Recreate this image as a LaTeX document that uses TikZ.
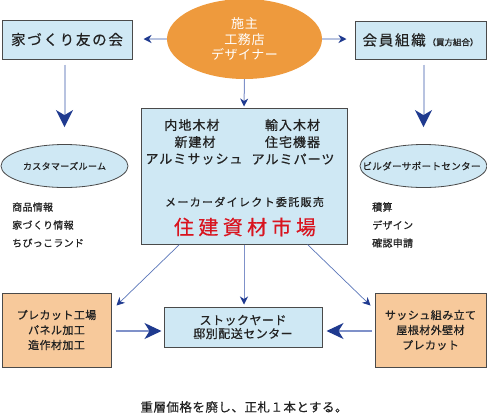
\documentclass[tikz,border=0pt]{standalone}
\usepackage{fontspec}
\setmainfont{Noto Sans CJK JP}
\usetikzlibrary{arrows.meta,shapes.geometric}
\definecolor{lblue}{HTML}{CFE8F4}
\definecolor{orangeE}{HTML}{EE9A3D}
\definecolor{peach}{HTML}{F7C99B}
\definecolor{navy}{HTML}{1F3A8F}
\definecolor{lline}{HTML}{B8C3E0}
\definecolor{mline}{HTML}{7F91C9}
\definecolor{dline}{HTML}{5A75B8}
\definecolor{redt}{HTML}{D9141F}
\definecolor{border}{HTML}{4A4A4A}
\definecolor{ink}{HTML}{222222}
\newcommand{\fs}[3]{\fontsize{#1}{#2}\selectfont\addfontfeature{LetterSpace=#3}}
\newcommand{\fsb}[3]{\fontsize{#1}{#2}\selectfont\addfontfeature{LetterSpace=#3,FakeBold=0.7}}
\newcommand{\fsm}[3]{\fontsize{#1}{#2}\selectfont\addfontfeature{LetterSpace=#3,FakeBold=0.3}}
\begin{document}
\begin{tikzpicture}[x=1pt,y=-1pt,
  bluebox/.style={draw=border, line width=1pt, fill=lblue, inner sep=0pt},
  peachbox/.style={draw=border, line width=1pt, fill=peach, inner sep=0pt, align=center, text=ink},
  bluell/.style={ellipse, draw=border, line width=0.8pt, fill=lblue, inner sep=0pt, minimum width=127pt, minimum height=43pt},
  txt/.style={inner sep=0pt, align=center, text=ink},
  lighta/.style={draw=lline, line width=2pt, -{Stealth[length=8pt,width=8pt,inset=2.5pt,color=navy]}},
  lightbig/.style={draw=lline, line width=2pt, -{Stealth[length=17pt,width=17pt,inset=5pt,color=navy]}},
  mida/.style={draw=mline, line width=1pt, -{Stealth[length=8pt,width=8pt,inset=2.5pt,color=navy]}},
  midbig/.style={draw=mline, line width=1.2pt, -{Stealth[length=17pt,width=16pt,inset=5pt,color=navy]}},
  diaga/.style={draw=dline, line width=0.7pt, -{Stealth[length=8pt,width=8pt,inset=2.5pt,color=navy]}},
  tipa/.style={draw=none, -{Stealth[length=7pt,width=8pt,inset=2pt,color=navy]}},
]
\useasboundingbox (0,0) rectangle (487,416);

% top ellipse
\node[ellipse, fill=orangeE, minimum width=155pt, minimum height=80pt, inner sep=0pt] (own) at (244.5,39) {};
\node[txt, text=white, font=\fs{13}{15.5}{4}] (ownt) at (own) {施主\\工務店\\デザイナー};

% top boxes
\node[bluebox, minimum width=130pt, minimum height=39pt] (b1) at (67,39.5) {};
\node[txt, font=\fsm{14.5}{17}{12}] (b1t) at (b1) {家づくり友の会};
\node[bluebox, minimum width=131pt, minimum height=38pt] (b2) at (420.5,40) {};
\node[txt] (b2t) at (b2) {{\fsm{14.5}{17}{12}会員組織}\,{\fsb{8.5}{11}{0}（買方組合）}};

% central box
\node[bluebox, minimum width=206pt, minimum height=136pt] (c) at (244,176) {};
\node[txt, font=\fsb{13}{15}{8}] (t1) at (192,125) {内地木材};
\node[txt, font=\fsb{13}{15}{8}] (t2) at (292.5,125) {輸入木材};
\node[txt, font=\fsb{13}{15}{8}] (t3) at (195,142) {新建材};
\node[txt, font=\fsb{13}{15}{8}] (t4) at (292.5,142) {住宅機器};
\node[txt, font=\fsb{13}{15}{8}] (t5) at (194,159) {アルミサッシュ};
\node[txt, font=\fsb{13}{15}{8}] (t6) at (293,159) {アルミパーツ};
\node[txt, font=\fsb{11}{13}{12}] (t7) at (244.5,202) {メーカーダイレクト委託販売};
\node[txt, text=redt, font=\fsm{20}{22}{22}] (t8) at (245,227) {住建資材市場};

% side ellipses
\node[bluell] (eL) at (64.5,166) {};
\node[txt, font=\fsb{9}{11}{4}] (eLt) at (eL) {カスタマーズルーム};
\node[bluell] (eR) at (423.5,166) {};
\node[txt, font=\fsb{9.5}{11}{4}] (eRt) at (421.5,166) {ビルダーサポートセンター};

% lists
\node[txt, anchor=west, font=\fsb{10}{12}{3}] (l1) at (12,207) {商品情報};
\node[txt, anchor=west, font=\fsb{10}{12}{3}] (l2) at (12,225) {家づくり情報};
\node[txt, anchor=west, font=\fsb{10}{12}{3}] (l3) at (12,243) {ちびっこランド};
\node[txt, anchor=west, font=\fsb{10}{12}{3}] (r1) at (372,207) {積算};
\node[txt, anchor=west, font=\fsb{10}{12}{3}] (r2) at (372,225) {デザイン};
\node[txt, anchor=west, font=\fsb{10}{12}{3}] (r3) at (372,243) {確認申請};

% bottom boxes
\node[peachbox, minimum width=109pt, minimum height=74pt, font=\fsb{11}{15}{4}] (pb) at (56.5,330) {プレカット工場\\パネル加工\\造作材加工};
\node[peachbox, minimum width=111pt, minimum height=74pt, font=\fsb{11}{15}{4}] (sb) at (430.5,330) {サッシュ組み立て\\屋根材外壁材\\プレカット};
\node[bluebox, align=center, text=ink, minimum width=158pt, minimum height=40pt, font=\fsb{12}{13.5}{4}] (st) at (243,327) {ストックヤード\\邸別配送センター};

% caption
\node[txt, font=\fsm{12.5}{14}{4}] (cap) at (244,407) {重層価格を廃し、正札１本とする。};

% connectors
\draw[lighta, shorten >=11pt] (own.west) -- (own.west -| b1.east);
\draw[lighta, shorten >=8pt] (own.east) -- (own.east -| b2.west);
\draw[lightbig, shorten <=5pt, shorten >=17pt] (eL.north |- b1.south) -- (eL.north);
\draw[lightbig, shorten <=5pt, shorten >=17pt] (eR.north |- b2.south) -- (eR.north);
\draw[mida, shorten >=1pt] (own.south) -- (c.north);
\draw[tipa, shorten <=3pt, shorten >=3pt] (eL.east) -- (eL.east -| c.west);
\draw[tipa, shorten <=5pt, shorten >=3pt] (eR.west) -- (eR.west -| c.east);
\coordinate (dL1) at ([xshift=39pt]c.south west);
\coordinate (dL2) at ([shift={(5,13)}]pb.north east);
\coordinate (dR1) at ([xshift=-40pt]c.south east);
\coordinate (dR2) at ([shift={(-4,13)}]sb.north west);
\draw[diaga] (dL1) -- (dL2);
\draw[diaga] (dR1) -- (dR2);
\draw[mida, shorten >=2pt] (c.south) -- (c.south |- st.north);
\draw[midbig, shorten <=4pt, shorten >=2pt] ([yshift=-1pt]pb.east) -- ([yshift=-1pt]pb.east -| st.west);
\draw[midbig, shorten <=3pt, shorten >=4pt] ([yshift=-1pt]sb.west) -- ([yshift=-1pt]sb.west -| st.east);
\end{tikzpicture}
\end{document}
